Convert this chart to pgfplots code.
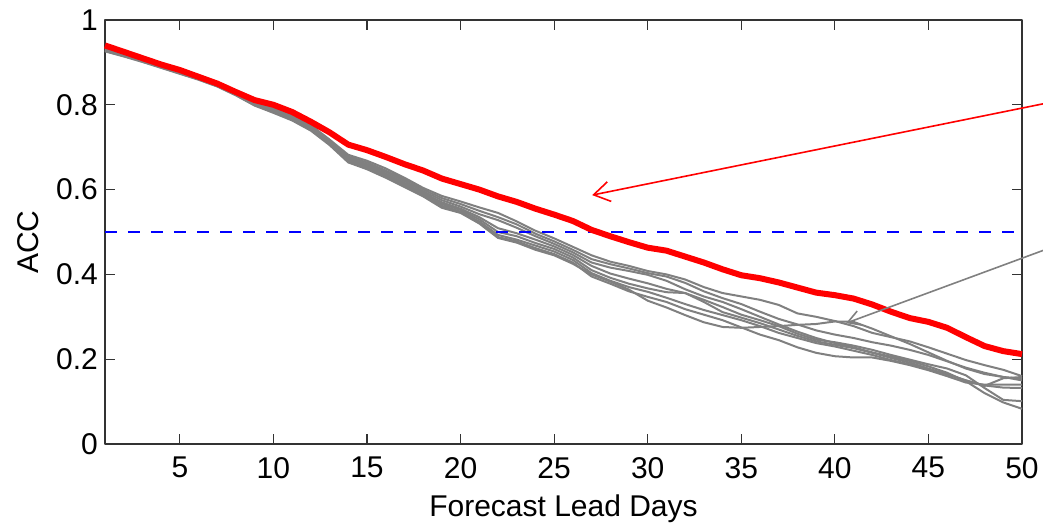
\documentclass[border=0pt]{standalone}
\usepackage{fontspec}
\setmainfont{Liberation Sans}
\usepackage{pgfplots}
\usepackage{pgfplotstable}
\pgfplotsset{compat=1.18}
\usetikzlibrary{arrows.meta}

\pgfplotstableread{
d   R     A     H     C     D     E     F     G     B
1   0.940 0.935 0.933 0.931 0.930 0.929 0.928 0.927 0.926
2   0.925 0.922 0.920 0.919 0.918 0.917 0.916 0.915 0.914
3   0.910 0.909 0.907 0.906 0.905 0.904 0.903 0.902 0.901
4   0.895 0.895 0.893 0.892 0.891 0.890 0.889 0.888 0.887
5   0.882 0.881 0.879 0.878 0.877 0.876 0.875 0.874 0.873
6   0.866 0.867 0.865 0.864 0.863 0.862 0.861 0.860 0.859
7   0.850 0.851 0.849 0.848 0.847 0.846 0.845 0.844 0.843
8   0.830 0.831 0.829 0.828 0.827 0.826 0.825 0.823 0.822
9   0.811 0.809 0.807 0.806 0.804 0.803 0.801 0.799 0.798
10  0.800 0.794 0.792 0.790 0.788 0.787 0.785 0.783 0.781
11  0.783 0.776 0.774 0.772 0.770 0.769 0.767 0.765 0.763
12  0.760 0.752 0.750 0.748 0.746 0.745 0.743 0.741 0.739
13  0.735 0.718 0.716 0.714 0.712 0.711 0.709 0.707 0.705
14  0.706 0.682 0.678 0.675 0.672 0.670 0.668 0.666 0.664
15  0.693 0.668 0.664 0.660 0.657 0.655 0.652 0.650 0.648
16  0.677 0.650 0.645 0.642 0.638 0.635 0.632 0.630 0.628
17  0.660 0.628 0.624 0.620 0.616 0.613 0.611 0.608 0.606
18  0.645 0.604 0.600 0.596 0.592 0.590 0.588 0.586 0.584
19  0.626 0.585 0.580 0.575 0.570 0.566 0.562 0.560 0.557
20  0.613 0.572 0.566 0.560 0.555 0.552 0.548 0.546 0.545
21  0.600 0.558 0.550 0.542 0.535 0.530 0.525 0.522 0.520
22  0.584 0.545 0.535 0.528 0.509 0.500 0.493 0.488 0.486
23  0.571 0.525 0.518 0.510 0.497 0.490 0.482 0.478 0.475
24  0.555 0.503 0.496 0.490 0.482 0.474 0.468 0.462 0.458
25  0.541 0.485 0.478 0.472 0.466 0.460 0.454 0.448 0.445
26  0.526 0.465 0.458 0.452 0.446 0.440 0.434 0.428 0.425
27  0.505 0.445 0.436 0.428 0.420 0.410 0.403 0.395 0.400
28  0.490 0.430 0.424 0.416 0.402 0.392 0.385 0.378 0.383
29  0.476 0.420 0.414 0.408 0.390 0.378 0.370 0.360 0.364
30  0.463 0.408 0.403 0.399 0.379 0.367 0.359 0.347 0.338
31  0.456 0.400 0.395 0.385 0.366 0.358 0.345 0.335 0.322
32  0.442 0.388 0.380 0.365 0.356 0.356 0.330 0.318 0.304
33  0.428 0.370 0.360 0.348 0.340 0.335 0.316 0.305 0.287
34  0.412 0.356 0.344 0.335 0.323 0.311 0.304 0.292 0.276
35  0.398 0.348 0.330 0.318 0.305 0.298 0.292 0.275 0.274
36  0.391 0.340 0.312 0.300 0.292 0.285 0.278 0.258 0.276
37  0.381 0.328 0.295 0.282 0.278 0.270 0.262 0.245 0.278
38  0.369 0.308 0.282 0.265 0.260 0.255 0.250 0.228 0.281
39  0.357 0.300 0.268 0.250 0.246 0.242 0.238 0.215 0.283
40  0.351 0.290 0.258 0.238 0.240 0.234 0.230 0.207 0.289
41  0.343 0.278 0.250 0.228 0.232 0.226 0.220 0.204 0.288
42  0.329 0.262 0.240 0.216 0.222 0.215 0.210 0.204 0.272
43  0.312 0.252 0.232 0.206 0.210 0.203 0.198 0.196 0.254
44  0.297 0.242 0.222 0.196 0.199 0.192 0.188 0.186 0.236
45  0.288 0.228 0.210 0.183 0.188 0.178 0.176 0.174 0.216
46  0.274 0.213 0.195 0.168 0.178 0.164 0.165 0.160 0.196
47  0.252 0.198 0.180 0.148 0.162 0.150 0.150 0.145 0.178
48  0.231 0.186 0.168 0.120 0.132 0.137 0.138 0.140 0.165
49  0.219 0.175 0.158 0.098 0.104 0.155 0.133 0.140 0.158
50  0.212 0.160 0.150 0.083 0.101 0.158 0.132 0.140 0.154
}\acc

\begin{document}
\begin{tikzpicture}
\begin{axis}[
  at={(0,0)}, anchor=south west,
  scale only axis,
  width=458.5pt, height=212pt,
  xmin=1, xmax=50, ymin=0, ymax=1,
  xtick={5,10,...,50},
  ytick={0,0.2,0.4,0.6,0.8,1},
  tick align=inside,
  major tick length=5pt,
  every tick/.style={black!80, line width=0.6pt},
  axis line style={black!80, line width=0.6pt},
  /pgf/number format/assume math mode=true,
  tick label style={font=\fontsize{15}{18}\selectfont},
  xticklabel style={yshift=-3pt},
  label style={font=\fontsize{15}{18}\selectfont},
  xlabel={Forecast Lead Days},
  ylabel={ACC},
  xlabel style={at={(axis description cs:0.5,-0.172)}, anchor=base},
  ylabel style={at={(axis description cs:-0.084,0.476)}, anchor=center},
  clip=false,
  line join=round,
]
\foreach \c in {A,H,C,D,E,F,G,B}{
  \addplot[color={rgb,255:red,128;green,128;blue,128}, line width=1pt, mark=none] table[x=d, y=\c] {\acc};
}
\addplot[color=blue, line width=0.75pt, dash pattern=on 6pt off 5.5pt, mark=none] coordinates {(1,0.5) (50,0.5)};
\addplot[color=red, line width=3pt, mark=none] table[x=d, y=R] {\acc};
\draw[red, line width=0.8pt, -{Straight Barb[length=8pt, width=10pt]}] (axis cs:53,0.819) -- (axis cs:27.03,0.587);
\draw[color={rgb,255:red,128;green,128;blue,128}, line width=0.8pt, -{Straight Barb[length=6.5pt, width=7.5pt]}] (axis cs:53,0.487) -- (axis cs:40.6,0.285);
\end{axis}
\pgfresetboundingbox
\path[use as bounding box] (-52.5pt,-42pt) rectangle (469pt,222pt);
\end{tikzpicture}
\end{document}
